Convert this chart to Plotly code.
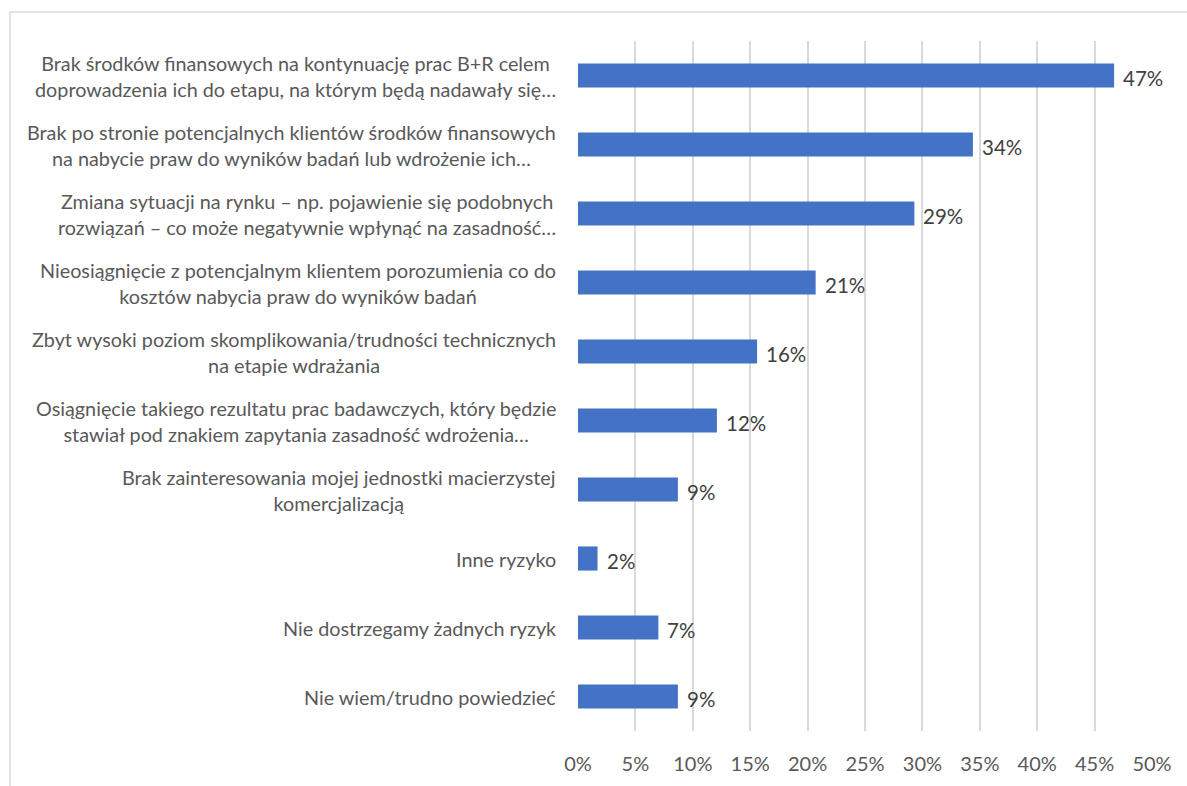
import plotly.graph_objects as go

# Risk categories (top to bottom) and share of respondents
categories = [
    "Brak środków finansowych na kontynuację prac B+R celem<br>doprowadzenia ich do etapu, na którym będą nadawały się…",
    "Brak po stronie potencjalnych klientów środków finansowych<br>na nabycie praw do wyników badań lub wdrożenie ich…",
    "Zmiana sytuacji na rynku – np. pojawienie się podobnych<br>rozwiązań – co może negatywnie wpłynąć na zasadność…",
    "Nieosiągnięcie z potencjalnym klientem porozumienia co do<br>kosztów nabycia praw do wyników badań",
    "Zbyt wysoki poziom skomplikowania/trudności technicznych<br>na etapie wdrażania",
    "Osiągnięcie takiego rezultatu prac badawczych, który będzie<br>stawiał pod znakiem zapytania zasadność wdrożenia…",
    "Brak zainteresowania mojej jednostki macierzystej<br>komercjalizacją",
    "Inne ryzyko",
    "Nie dostrzegamy żadnych ryzyk",
    "Nie wiem/trudno powiedzieć",
]
values = [0.467, 0.344, 0.293, 0.207, 0.156, 0.121, 0.087, 0.017, 0.070, 0.087]

x_ticks = [0, 0.05, 0.10, 0.15, 0.20, 0.25, 0.30, 0.35, 0.40, 0.45, 0.50]
x_ticktext = ["0%", "5%", "10%", "15%", "20%", "25%", "30%", "35%", "40%", "45%", "50%"]

FONT = "Lato, Carlito, Calibri, sans-serif"
W, H = 1187, 786
ML, MR, MT, MB = 578, 35, 41, 55

ids = list(range(len(categories)))

fig = go.Figure(
    go.Bar(
        x=values,
        y=ids,
        orientation="h",
        marker=dict(color="#4472C4", line=dict(width=0)),
        width=0.35,
        hoverinfo="skip",
    )
)

annotations = []
# value labels to the right of each bar
for i, v in zip(ids, values):
    annotations.append(dict(
        x=v, y=i, xref="x", yref="y", xanchor="left", yanchor="middle",
        xshift=7, yshift=-2, text=f"{v:.0%}", showarrow=False,
        font=dict(family=FONT, size=20.5, color="#404040"),
    ))
# category labels, right-edge anchored, lines centred like the category axis
plot_w = W - ML - MR
for i, c in zip(ids, categories):
    annotations.append(dict(
        x=-20 / plot_w, y=i, xref="paper", yref="y", xanchor="right", yanchor="middle",
        align="center", text=c, showarrow=False,
        font=dict(family=FONT, size=19.8, color="#595959"),
    ))

plot_h = H - MT - MB
fig.update_layout(
    width=W, height=H,
    margin=dict(l=ML, r=MR, t=MT, b=MB, pad=0),
    paper_bgcolor="white", plot_bgcolor="white",
    showlegend=False,
    annotations=annotations,
    xaxis=dict(
        range=[0, 0.5], tickvals=x_ticks, ticktext=x_ticktext,
        showgrid=True, gridcolor="#d9d9d9", gridwidth=1.5,
        zeroline=False, showline=False, ticks="",
        tickfont=dict(family=FONT, size=20, color="#595959"),
        ticklabelstandoff=19, fixedrange=True,
    ),
    yaxis=dict(
        range=[len(categories) - 0.5, -0.5], showticklabels=False,
        showgrid=False, zeroline=False, showline=False, ticks="",
        fixedrange=True,
    ),
    shapes=[
        # chart-area border running off the right and bottom edges
        dict(type="rect", xref="paper", yref="paper",
             x0=(10 - ML) / plot_w, x1=(W + 20 - ML) / plot_w,
             y0=-(MB + 20) / plot_h, y1=(H - MB - 12) / plot_h,
             line=dict(color="#d9d9d9", width=1.5), fillcolor="rgba(0,0,0,0)",
             layer="below"),
    ],
)

fig.write_html("out.html", config={"displayModeBar": False})
